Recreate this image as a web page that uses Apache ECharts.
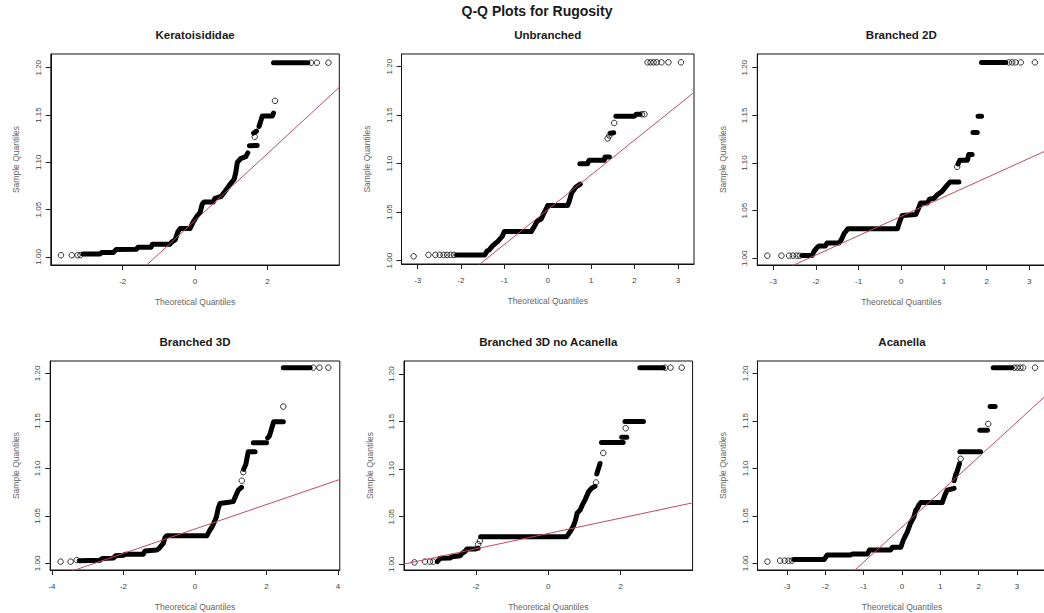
<!DOCTYPE html>
<html>
<head>
<meta charset="utf-8">
<title>Q-Q Plots for Rugosity</title>
<script src="https://cdn.jsdelivr.net/npm/echarts@6/dist/echarts.min.js"></script>
<style>
  html, body { margin: 0; padding: 0; background: #ffffff; }
  #chart { width: 1044px; height: 613px; }
</style>
</head>
<body>
<div id="chart"></div>
<script>
// ---- labels ----
const mainTitle = 'Q-Q Plots for Rugosity';
const panelTitles = ['Keratoisididae', 'Unbranched', 'Branched 2D', 'Branched 3D', 'Branched 3D no Acanella', 'Acanella'];
const xAxisTitle = 'Theoretical Quantiles';
const yAxisTitle = 'Sample Quantiles';

// ---- tick labels ----
const yTicks = [1.00, 1.05, 1.10, 1.15, 1.20];
const xTicksTwo = [-2, 0, 2];
const xTicksOne = [-3, -2, -1, 0, 1, 2, 3];
const xTicksFour = [-4, -2, 0, 2, 4];

// ---- Keratoisididae: dense runs of overlapping points, isolated points, qqline ----
const kerRuns = [
  [[-3.10,1.003],[-2.63,1.0032],[-2.58,1.0046],[-2.26,1.0048],[-2.18,1.0078],[-1.62,1.0081],[-1.58,1.0102],[-1.22,1.0102],[-1.18,1.0134],[-0.70,1.0134],[-0.64,1.016],[-0.55,1.018],[-0.47,1.027],[-0.41,1.030],[-0.14,1.030],[-0.05,1.037],[0.05,1.043],[0.14,1.047],[0.20,1.056],[0.25,1.058],[0.50,1.058],[0.55,1.062],[0.72,1.064],[0.82,1.069],[0.97,1.077],[1.08,1.082],[1.13,1.090],[1.17,1.100],[1.26,1.104],[1.40,1.106],[1.46,1.110]],
  [[1.50,1.1175],[1.72,1.1178]],
  [[1.62,1.131],[1.70,1.133]],
  [[1.77,1.138],[1.82,1.144],[1.86,1.149],[2.14,1.149],[2.17,1.152]],
  [[2.17,1.2053],[3.12,1.2053]]
];
const kerPoints = [[-3.71,1.0018],[-3.41,1.0018],[-3.25,1.0018],[-3.17,1.002],[1.65,1.127],[2.21,1.165],[3.21,1.2053],[3.37,1.2053],[3.69,1.2053]];
const kerLine = [[-3.99,0.8979],[3.99,1.1793]];

// ---- Unbranched ----
const unbRuns = [
  [[-2.10,1.006],[-1.45,1.006],[-1.40,1.010],[-1.35,1.011],[-1.28,1.015],[-1.15,1.020],[-1.05,1.025],[-1.00,1.030],[-0.38,1.030],[-0.30,1.036],[-0.24,1.041],[-0.15,1.043],[-0.10,1.048],[-0.04,1.053],[0.00,1.057],[0.46,1.057],[0.50,1.062],[0.55,1.070],[0.65,1.076],[0.75,1.079]],
  [[0.74,1.100],[0.92,1.100],[0.95,1.1035],[1.30,1.1035],[1.32,1.107],[1.42,1.107]],
  [[1.44,1.1315],[1.52,1.132]],
  [[1.57,1.149],[2.00,1.149],[2.04,1.151],[2.12,1.151]]
];
const unbPoints = [[-3.09,1.0045],[-2.75,1.006],[-2.59,1.006],[-2.49,1.006],[-2.40,1.006],[-2.32,1.006],[-2.24,1.006],[-2.16,1.006],[1.38,1.126],[1.42,1.129],[1.53,1.142],[2.17,1.151],[2.23,1.151],[2.30,1.2045],[2.37,1.2045],[2.44,1.2045],[2.51,1.2045],[2.62,1.2045],[2.78,1.2045],[3.07,1.2045]];
const unbLine = [[-3.37,0.9317],[3.37,1.1735]];

// ---- Branched 2D ----
const b2dRuns = [
  [[-2.32,1.003],[-2.09,1.003],[-2.05,1.007],[-1.98,1.011],[-1.93,1.013],[-1.78,1.013],[-1.74,1.016],[-1.46,1.016],[-1.40,1.020],[-1.34,1.026],[-1.27,1.030],[-1.25,1.031],[-0.09,1.031],[-0.05,1.037],[0.02,1.045],[0.34,1.046],[0.40,1.052],[0.45,1.058],[0.61,1.058],[0.66,1.062],[0.77,1.063],[0.85,1.067],[0.95,1.070],[1.08,1.077],[1.14,1.080],[1.35,1.080]],
  [[1.33,1.099],[1.37,1.103],[1.55,1.103],[1.58,1.109],[1.66,1.109]],
  [[1.68,1.132],[1.78,1.132]],
  [[1.80,1.149],[1.88,1.149]],
  [[1.88,1.2056],[2.45,1.2056]]
];
const b2dPoints = [[-3.14,1.0028],[-2.81,1.0028],[-2.63,1.0028],[-2.54,1.0028],[-2.45,1.0028],[-2.38,1.0028],[1.31,1.096],[2.52,1.2056],[2.60,1.2056],[2.68,1.2056],[2.80,1.2056],[3.13,1.2056]];
const b2dLine = [[-3.375,0.9756],[3.375,1.1126]];

// ---- Branched 3D ----
const b3dRuns = [
  [[-3.24,1.0028],[-2.66,1.0032],[-2.60,1.005],[-2.28,1.0055],[-2.22,1.008],[-2.00,1.0085],[-1.95,1.0095],[-1.45,1.0095],[-1.40,1.013],[-1.07,1.014],[-1.00,1.016],[-0.89,1.021],[-0.84,1.027],[-0.79,1.029],[0.33,1.029],[0.40,1.034],[0.50,1.040],[0.60,1.049],[0.65,1.058],[0.70,1.063],[0.89,1.064],[1.07,1.065],[1.15,1.072],[1.21,1.077],[1.30,1.080]],
  [[1.36,1.099],[1.42,1.104],[1.49,1.1175],[1.68,1.1175]],
  [[1.63,1.127],[2.00,1.127]],
  [[2.03,1.132],[2.08,1.134],[2.13,1.140],[2.20,1.149],[2.47,1.149]],
  [[2.47,1.206],[3.22,1.206]]
];
const b3dPoints = [[-3.76,1.0018],[-3.48,1.0018],[-3.31,1.0035],[1.31,1.087],[1.35,1.096],[2.47,1.165],[3.31,1.206],[3.48,1.206],[3.73,1.206]];
const b3dLine = [[-4.05,0.9841],[4.05,1.0883]];

// ---- Branched 3D no Acanella ----
const b3nRuns = [
  [[-3.07,1.0028],[-2.99,1.0063],[-2.72,1.0065],[-2.66,1.008],[-2.44,1.009],[-2.38,1.0115],[-2.30,1.0135],[-2.25,1.016],[-2.03,1.016],[-1.94,1.017]],
  [[-1.87,1.029],[0.51,1.029],[0.60,1.034],[0.69,1.040],[0.75,1.046],[0.80,1.054],[0.88,1.057],[0.95,1.063],[1.02,1.068],[1.11,1.076],[1.20,1.080],[1.29,1.082]],
  [[1.34,1.095],[1.38,1.100],[1.43,1.106]],
  [[1.47,1.128],[2.07,1.128]],
  [[2.03,1.1335],[2.17,1.1335]],
  [[2.12,1.150],[2.63,1.150]],
  [[2.53,1.2067],[3.18,1.2067]]
];
const b3nPoints = [[-3.70,1.002],[-3.41,1.0028],[-3.27,1.0028],[-3.18,1.0028],[-1.94,1.021],[-1.89,1.0245],[1.32,1.086],[1.52,1.117],[2.14,1.143],[3.23,1.2067],[3.38,1.2067],[3.69,1.2067]];
const b3nLine = [[-3.99,1.0002],[3.99,1.0646]];

// ---- Acanella ----
const acaRuns = [
  [[-2.82,1.004],[-2.03,1.004],[-1.98,1.007],[-1.95,1.0088],[-1.34,1.0088],[-1.30,1.0098],[-0.90,1.0098],[-0.85,1.014],[-0.30,1.014],[-0.25,1.017],[-0.03,1.017],[0.03,1.024],[0.10,1.030],[0.14,1.033],[0.22,1.042],[0.31,1.049],[0.36,1.056],[0.40,1.058],[0.45,1.062],[0.49,1.064],[1.05,1.064],[1.12,1.072],[1.18,1.077],[1.36,1.079]],
  [[1.36,1.087],[1.40,1.093],[1.44,1.097],[1.50,1.105]],
  [[1.51,1.1175],[2.05,1.1175]],
  [[2.03,1.140],[2.23,1.140]],
  [[2.30,1.165],[2.43,1.165]],
  [[2.38,1.206],[2.86,1.206]]
];
const acaPoints = [[-3.51,1.0018],[-3.18,1.0028],[-3.06,1.0028],[-2.96,1.0028],[-2.87,1.0028],[1.53,1.110],[2.25,1.1467],[2.93,1.206],[3.01,1.206],[3.09,1.206],[3.16,1.206],[3.47,1.206]];
const acaLine = [[-3.77,0.8992],[3.77,1.1772]];

// ---- panel layout (plot box in px, axis ranges) ----
const FONT = '"Liberation Sans", Arial, Helvetica, sans-serif';
const panels = [
  { title: panelTitles[0], runs: kerRuns, points: kerPoints, line: kerLine, xTicks: xTicksTwo,  box: [50.8, 54, 288.5, 211], x: [-3.99, 3.99],   y: [0.9915, 1.2145] },
  { title: panelTitles[1], runs: unbRuns, points: unbPoints, line: unbLine, xTicks: xTicksOne,  box: [401.5, 54, 292.5, 210], x: [-3.37, 3.37],   y: [0.9966, 1.2131] },
  { title: panelTitles[2], runs: b2dRuns, points: b2dPoints, line: b2dLine, xTicks: xTicksOne,  box: [757.3, 54, 288, 211],   x: [-3.375, 3.375], y: [0.993, 1.2144] },
  { title: panelTitles[3], runs: b3dRuns, points: b3dPoints, line: b3dLine, xTicks: xTicksFour, box: [50.2, 361, 289.6, 209], x: [-4.05, 4.05],   y: [0.993, 1.213] },
  { title: panelTitles[4], runs: b3nRuns, points: b3nPoints, line: b3nLine, xTicks: xTicksTwo,  box: [404, 361, 288.6, 209],  x: [-3.99, 3.99],   y: [0.994, 1.2137] },
  { title: panelTitles[5], runs: acaRuns, points: acaPoints, line: acaLine, xTicks: xTicksOne,  box: [757.5, 361, 289, 209],  x: [-3.77, 3.77],   y: [0.993, 1.213] }
];

const grid = [], xAxis = [], yAxis = [], series = [], graphic = [];

graphic.push({
  type: 'text', x: 537, y: 11, silent: true,
  style: { text: mainTitle, align: 'center', verticalAlign: 'middle', font: 'bold 14px ' + FONT, fill: '#1a1a1a' }
});

panels.forEach((p, i) => {
  const [left, top, width, height] = p.box;
  grid.push({
    left, top, width, height,
    show: true, borderColor: '#111', borderWidth: 1, backgroundColor: 'transparent',
    containLabel: false, outerBoundsMode: 'none'
  });

  xAxis.push({
    type: 'value', gridIndex: i, min: p.x[0], max: p.x[1],
    axisLine: { show: true, onZero: false, lineStyle: { color: '#111', width: 1 } },
    axisTick: { show: true, inside: false, length: 5, customValues: p.xTicks, lineStyle: { color: '#222', width: 1 } },
    axisLabel: { show: true, customValues: p.xTicks, margin: 12, fontSize: 8, fontFamily: FONT, color: '#444' },
    splitLine: { show: false },
    name: xAxisTitle, nameLocation: 'middle', nameGap: 32,
    nameTextStyle: { fontSize: 8.5, fontFamily: FONT, color: '#666' }
  });

  yAxis.push({
    type: 'value', gridIndex: i, min: p.y[0], max: p.y[1],
    axisLine: { show: true, onZero: false, lineStyle: { color: '#111', width: 1 } },
    axisTick: { show: true, inside: false, length: 5, customValues: yTicks, lineStyle: { color: '#222', width: 1 } },
    axisLabel: {
      show: true, customValues: yTicks, rotate: 90, margin: 8.5, fontSize: 8, fontFamily: FONT, color: '#444',
      formatter: v => Number(v).toFixed(2)
    },
    splitLine: { show: false },
    name: yAxisTitle, nameLocation: 'middle', nameGap: 30, nameRotate: 90,
    nameTextStyle: { fontSize: 8.5, fontFamily: FONT, color: '#666' }
  });

  graphic.push({
    type: 'text', x: left + width / 2, y: top - 19, silent: true,
    style: { text: p.title, align: 'center', verticalAlign: 'middle', font: 'bold 11.5px ' + FONT, fill: '#1a1a1a' }
  });

  // tightly packed sample points, drawn as thick black strokes
  p.runs.forEach(run => {
    series.push({
      type: 'line', xAxisIndex: i, yAxisIndex: i, data: run,
      showSymbol: false, symbol: 'none', silent: true, z: 3,
      lineStyle: { color: '#000', width: 5, cap: 'round', join: 'round' }
    });
  });

  // isolated sample points as open circles
  series.push({
    type: 'scatter', xAxisIndex: i, yAxisIndex: i, data: p.points,
    symbol: 'circle', symbolSize: 5.5, silent: true, z: 4,
    itemStyle: { color: 'rgba(0,0,0,0)', borderColor: '#000', borderWidth: 1 }
  });

  // reference line through the quartiles
  series.push({
    type: 'line', xAxisIndex: i, yAxisIndex: i, data: p.line,
    showSymbol: false, symbol: 'none', silent: true, z: 5, clip: true,
    lineStyle: { color: '#c24a60', width: 1 }
  });
});

const chart = echarts.init(document.getElementById('chart'), null, { renderer: 'svg' });
chart.setOption({
  backgroundColor: '#ffffff',
  animation: false,
  tooltip: { show: false },
  grid, xAxis, yAxis, series, graphic
});
</script>
</body>
</html>
